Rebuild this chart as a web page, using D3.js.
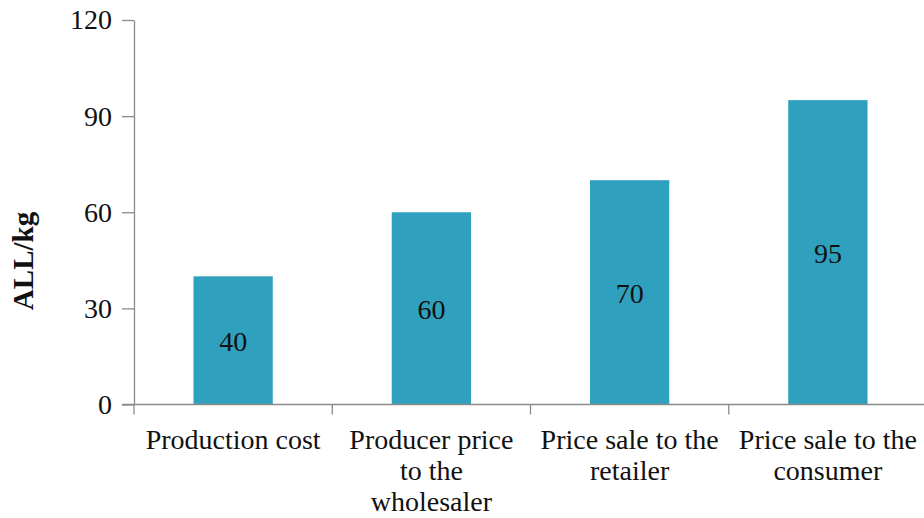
<!DOCTYPE html>
<html>
<head>
<meta charset="utf-8">
<script src="https://cdn.jsdelivr.net/npm/d3@7"></script>
<style>
  html, body { margin: 0; padding: 0; background: #fff; }
  svg { display: block; }
</style>
</head>
<body>
<svg id="chart" width="924" height="518"></svg>
<script>
// Price chain of the product, ALL per kg
const categories = [
  ["Production cost"],
  ["Producer price", "to the", "wholesaler"],
  ["Price sale to the", "retailer"],
  ["Price sale to the", "consumer"]
];
const values = [40, 60, 70, 95];
const yTicks = [0, 30, 60, 90, 120];
const yTitle = "ALL/kg";

const W = 924, H = 518;
const margin = { left: 134, right: -3, top: 20, bottom: 113.5 };
const font = "'Liberation Serif', 'Times New Roman', serif";
const barColor = "#2fa1be";
const axisColor = "#8a8a8a";

const svg = d3.select("#chart");

const x = d3.scaleBand()
  .domain(d3.range(categories.length))
  .range([margin.left, W - margin.right])
  .paddingInner(0).paddingOuter(0);

const y = d3.scaleLinear()
  .domain([0, 120])
  .range([H - margin.bottom, margin.top]);

const barW = x.bandwidth() * 0.4;

// Bars
svg.append("g").selectAll("rect")
  .data(values)
  .join("rect")
  .attr("x", (d, i) => x(i) + (x.bandwidth() - barW) / 2)
  .attr("y", d => y(d))
  .attr("width", barW)
  .attr("height", d => y(0) - y(d))
  .attr("fill", barColor);

// Value labels in the middle of each bar
svg.append("g").selectAll("text")
  .data(values)
  .join("text")
  .attr("x", (d, i) => x(i) + x.bandwidth() / 2)
  .attr("y", d => y(d / 2) + 11)
  .attr("text-anchor", "middle")
  .attr("font-family", font)
  .attr("font-size", 28)
  .attr("fill", "#111")
  .text(d => d);

// Y axis
const yAxis = svg.append("g")
  .attr("transform", `translate(${margin.left},0)`)
  .call(d3.axisLeft(y).tickValues(yTicks).tickSize(12).tickPadding(10).tickSizeOuter(0));
yAxis.select(".domain").attr("stroke", axisColor).attr("stroke-width", 1.3);
yAxis.selectAll(".tick line").attr("stroke", axisColor).attr("stroke-width", 1.3);
yAxis.selectAll(".tick text")
  .attr("font-family", font)
  .attr("font-size", 28)
  .attr("fill", "#111");

// X axis with ticks at category boundaries
const xg = svg.append("g");
xg.append("line")
  .attr("x1", margin.left - 12).attr("x2", W)
  .attr("y1", y(0)).attr("y2", y(0))
  .attr("stroke", axisColor).attr("stroke-width", 1.3);
xg.selectAll("line.sep")
  .data(d3.range(categories.length + 1))
  .join("line")
  .attr("class", "sep")
  .attr("x1", i => i < categories.length ? x(i) : x(i - 1) + x.bandwidth())
  .attr("x2", i => i < categories.length ? x(i) : x(i - 1) + x.bandwidth())
  .attr("y1", y(0)).attr("y2", y(0) + 10)
  .attr("stroke", axisColor).attr("stroke-width", 1.3);

// Category labels
const labels = xg.selectAll("text.cat")
  .data(categories)
  .join("text")
  .attr("class", "cat")
  .attr("text-anchor", "middle")
  .attr("font-family", font)
  .attr("font-size", 28)
  .attr("fill", "#111");
labels.selectAll("tspan")
  .data((d, i) => d.map(line => ({ line, i })))
  .join("tspan")
  .attr("x", d => x(d.i) + x.bandwidth() / 2)
  .attr("y", (d, j) => y(0) + 44 + j * 31)
  .text(d => d.line);

// Y axis title
svg.append("text")
  .attr("transform", `translate(33,${261}) rotate(-90)`)
  .attr("text-anchor", "middle")
  .attr("font-family", font)
  .attr("font-weight", "bold")
  .attr("font-size", 29)
  .attr("fill", "#111")
  .text(yTitle);
</script>
</body>
</html>
